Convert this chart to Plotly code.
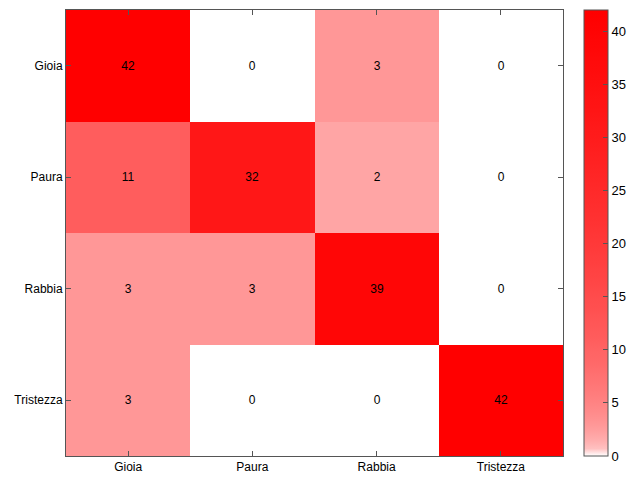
import plotly.graph_objects as go

# Confusion matrix of emotion classes (rows: actual, columns: predicted)
classes = ["Gioia", "Paura", "Rabbia", "Tristezza"]
row_gioia = [42, 0, 3, 0]
row_paura = [11, 32, 2, 0]
row_rabbia = [3, 3, 39, 0]
row_tristezza = [3, 0, 0, 42]
counts = [row_gioia, row_paura, row_rabbia, row_tristezza]

zmax = 42
cbar_ticks = [0, 5, 10, 15, 20, 25, 30, 35, 40]

# White-to-red palette with a strong gamma so small counts are already tinted
n_steps = 60
gamma = 0.34
colorscale = []
for i in range(n_steps + 1):
    f = i / n_steps
    g = round(255 * (1 - f ** gamma))
    colorscale.append([f, f"rgb(255,{g},{g})"])

font = dict(family="Liberation Sans, Arial, sans-serif", size=12, color="black")

fig = go.Figure(
    go.Heatmap(
        z=counts,
        x=classes,
        y=classes,
        zmin=0,
        zmax=zmax,
        colorscale=colorscale,
        texttemplate="%{z}",
        textfont=font,
        xgap=0,
        ygap=0,
        colorbar=dict(
            x=(584 - 66) / 564,
            xanchor="left",
            xpad=0,
            y=0.5,
            yanchor="middle",
            len=1,
            lenmode="fraction",
            ypad=0,
            thickness=24,
            outlinewidth=1,
            outlinecolor="#555555",
            tickvals=cbar_ticks,
            ticks="inside",
            ticklen=5,
            tickcolor="#555555",
            tickfont=dict(family="Liberation Sans, Arial, sans-serif", size=13, color="black"),
        ),
    )
)

axis_style = dict(
    showline=True,
    linecolor="#555555",
    linewidth=1,
    mirror="allticks",
    ticks="inside",
    ticklen=5,
    tickcolor="#555555",
    showgrid=False,
    zeroline=False,
    automargin=False,
    tickfont=font,
)

fig.update_xaxes(domain=[0, (563 - 66) / 564], **axis_style)
fig.update_yaxes(autorange="reversed", **axis_style)

fig.update_layout(
    width=630,
    height=479,
    margin=dict(l=66, r=0, t=10, b=23, autoexpand=False),
    paper_bgcolor="white",
    plot_bgcolor="white",
)

fig.write_html("out.html")
